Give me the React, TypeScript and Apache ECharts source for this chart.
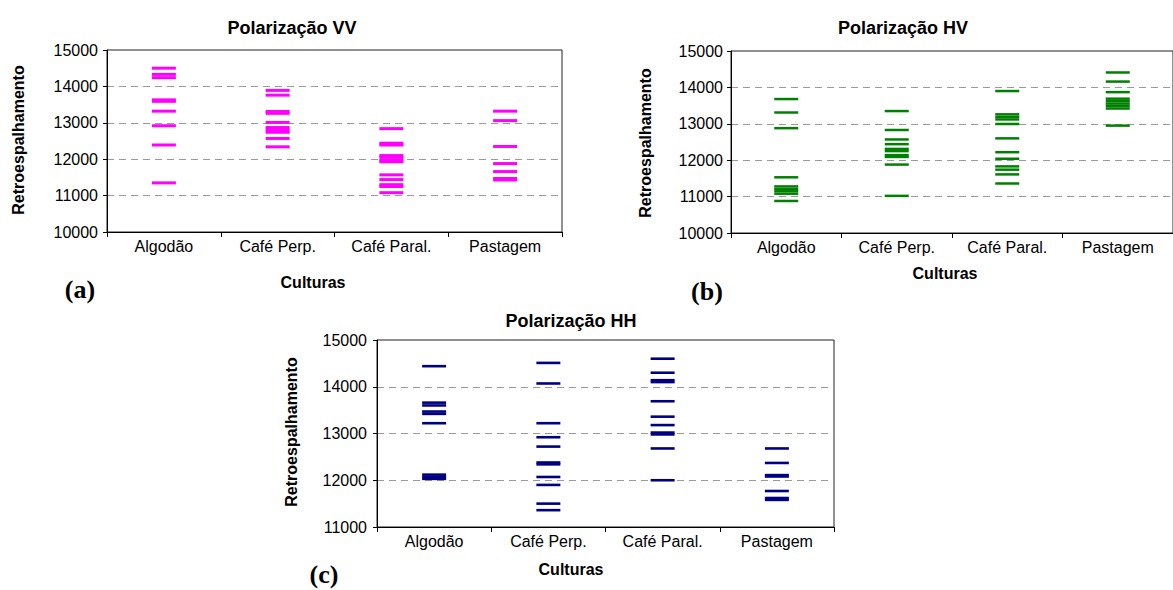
import React, { useEffect, useRef } from "react";
import * as echarts from "echarts";

const categories = ["Algodão", "Café Perp.", "Café Paral.", "Pastagem"];
const yTicksMain = [10000, 11000, 12000, 13000, 14000, 15000];

// Polarização VV (per category)
const vvAlgodao = [14500, 14330, 14240, 13630, 13590, 13320, 12920, 12390, 11350];
const vvCafePerp = [13890, 13760, 13310, 13260, 13010, 12870, 12800, 12740, 12570, 12340];
const vvCafeParal = [12840, 12440, 12390, 12100, 12050, 11970, 11930, 11570, 11440, 11300, 11250, 11080];
const vvPastagem = [13320, 13060, 12350, 11880, 11660, 11470, 11430];

// Polarização HV
const hvAlgodao = [13680, 13310, 12880, 11530, 11280, 11210, 11150, 11080, 10880];
const hvCafePerp = [13350, 12830, 12570, 12440, 12310, 12250, 12140, 12090, 11880, 11020];
const hvCafeParal = [13900, 13260, 13190, 13120, 12995, 12600, 12220, 12040, 11830, 11740, 11610, 11360];
const hvPastagem = [14410, 14160, 13870, 13690, 13620, 13555, 13490, 13420, 12950];

// Polarização HH
const hhAlgodao = [14440, 13660, 13600, 13470, 13420, 13220, 12120, 12070, 12030];
const hhCafePerp = [14510, 14070, 13220, 12920, 12720, 12380, 12340, 12070, 11900, 11500, 11360];
const hhCafeParal = [14600, 14300, 14140, 14100, 13690, 13360, 13180, 13020, 12980, 12680, 12000];
const hhPastagem = [12680, 12370, 12110, 12080, 11770, 11620, 11580];

const vvGroups = [vvAlgodao, vvCafePerp, vvCafeParal, vvPastagem];
const hvGroups = [hvAlgodao, hvCafePerp, hvCafeParal, hvPastagem];
const hhGroups = [hhAlgodao, hhCafePerp, hhCafeParal, hhPastagem];

const FONT = '"Liberation Sans", Arial, sans-serif';
const SERIF = '"Liberation Serif", "Times New Roman", serif';

function toPoints(groups: number[][]) {
  return groups.flatMap((vals, i) => vals.map((v) => [categories[i], v]));
}

function xAxis(gridIndex: number) {
  return {
    type: "category",
    gridIndex,
    data: categories,
    boundaryGap: true,
    axisLine: { show: true, lineStyle: { color: "#000", width: 1 } },
    axisTick: { show: true, length: 5, lineStyle: { color: "#000" } },
    axisLabel: { color: "#000", fontSize: 16, fontFamily: FONT, margin: 6 },
    splitLine: { show: false },
  };
}

function yAxis(gridIndex: number, min: number, margin: number) {
  return {
    type: "value",
    gridIndex,
    min,
    max: yTicksMain[yTicksMain.length - 1],
    interval: 1000,
    axisLine: { show: true, lineStyle: { color: "#000", width: 1 } },
    axisTick: { show: true, length: 4, lineStyle: { color: "#000" } },
    axisLabel: {
      color: "#000",
      fontSize: 16,
      fontFamily: FONT,
      margin,
      formatter: (v: number) => String(v),
    },
    splitLine: {
      show: true,
      showMinLine: false,
      showMaxLine: false,
      lineStyle: { color: "#9a9a9a", width: 1, type: [7, 5] },
    },
  };
}

function series(i: number, groups: number[][], color: string, thick: number) {
  return {
    type: "scatter",
    xAxisIndex: i,
    yAxisIndex: i,
    data: toPoints(groups),
    symbol: "rect",
    symbolSize: [24, thick],
    itemStyle: { color, opacity: 1 },
    silent: true,
  };
}

function label(text: string, x: number, y: number, font: string, rotation = 0) {
  return {
    type: "text",
    x,
    y,
    rotation,
    style: { text, font, fill: "#000", align: "center", verticalAlign: "middle" },
  };
}

export default function App() {
  const ref = useRef<HTMLDivElement>(null);

  useEffect(() => {
    if (!ref.current) return;
    const chart = echarts.init(ref.current, undefined, { renderer: "svg" });
    const titleFont = `bold 18px ${FONT}`;
    const nameFont = `bold 16px ${FONT}`;
    const tagFont = `bold 26px ${SERIF}`;
    chart.setOption({
      animation: false,
      backgroundColor: "#fff",
      grid: [
        { left: 107, top: 50, width: 455, height: 182, show: true, borderColor: "#222", borderWidth: 1 },
        { left: 731, top: 51, width: 456, height: 182, show: true, borderColor: "#222", borderWidth: 1 },
        { left: 377, top: 340, width: 457, height: 187, show: true, borderColor: "#222", borderWidth: 1 },
      ],
      xAxis: [xAxis(0), xAxis(1), xAxis(2)],
      yAxis: [yAxis(0, 10000, 9), yAxis(1, 10000, 8), yAxis(2, 11000, 10)],
      series: [
        series(0, vvGroups, "#ff00ff", 3),
        series(1, hvGroups, "#008000", 2.5),
        series(2, hhGroups, "#000080", 2.6),
      ],
      graphic: [
        label("Polarização VV", 292, 28, titleFont),
        label("Polarização HV", 903, 28, titleFont),
        label("Polarização HH", 571, 321, titleFont),
        label("Culturas", 313, 282, nameFont),
        label("Culturas", 945, 273, nameFont),
        label("Culturas", 571, 569, nameFont),
        label("Retroespalhamento", 18, 140, nameFont, Math.PI / 2),
        label("Retroespalhamento", 645, 143, nameFont, Math.PI / 2),
        label("Retroespalhamento", 291, 432, nameFont, Math.PI / 2),
        label("(a)", 80, 289, tagFont),
        label("(b)", 707, 291, tagFont),
        label("(c)", 324, 574, tagFont),
      ],
    });
    return () => chart.dispose();
  }, []);

  return (
    <div
      ref={ref}
      style={{ position: "absolute", left: 0, top: 0, width: 1173, height: 590, overflow: "hidden" }}
    />
  );
}
